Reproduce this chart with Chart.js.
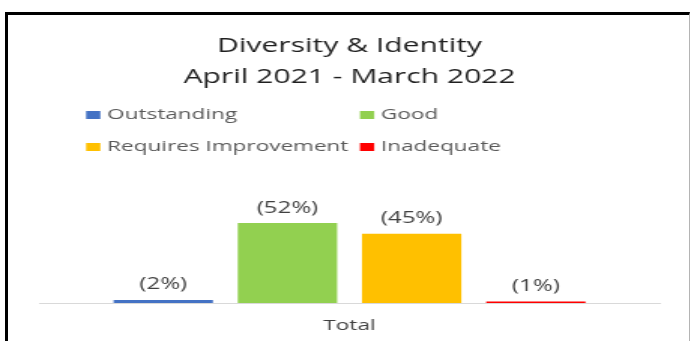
<!DOCTYPE html>
<html>
<head>
<meta charset="utf-8">
<title>Diversity &amp; Identity</title>
<script src="https://cdn.jsdelivr.net/npm/chart.js@4.4.1/dist/chart.umd.min.js"></script>
<style>
  html, body { margin: 0; padding: 0; background: #fff; }
  #wrap { position: relative; width: 691px; height: 341px; overflow: hidden; }
  #chart { position: absolute; left: 0; top: 0; }
  #frame {
    position: absolute; left: 5px; top: 12px; width: 681px; height: 400px;
    border-top: 3px solid #000; border-left: 3px solid #000; border-right: 1px solid #b4b4b4;
    pointer-events: none;
  }
</style>
</head>
<body>
<div id="wrap">
  <!-- drawn narrow and widened by the inline style, so the chart comes out stretched -->
  <canvas id="chart" width="460" height="341" style="width: 691px; height: 341px;"></canvas>
  <div id="frame"></div>
</div>
<script>
const categories = ['Total'];
const ratingLabels = ['Outstanding', 'Good', 'Requires Improvement', 'Inadequate'];
const ratingValues = [2, 52, 45, 1];   // percent of cases
const ratingColours = ['#4472c4', '#92d050', '#ffc000', '#ff0000'];
const titleLines = ['Diversity & Identity', 'April 2021 - March 2022'];

const FONT = "'Open Sans'";

// "(52%)" style labels above each bar
const valueLabels = {
  id: 'valueLabels',
  afterDatasetsDraw(chart) {
    const ctx = chart.ctx;
    ctx.save();
    ctx.font = '16px ' + FONT;
    ctx.fillStyle = '#404040';
    ctx.textAlign = 'center';
    ctx.textBaseline = 'middle';
    chart.data.datasets.forEach((ds, i) => {
      chart.getDatasetMeta(i).data.forEach((bar, j) => {
        ctx.fillText('(' + ds.data[j] + '%)', bar.x, bar.y - 15);
      });
    });
    ctx.restore();
  }
};

// legend laid out as a 2 x 2 grid under the title
const gridLegend = {
  id: 'gridLegend',
  afterDraw(chart) {
    const ctx = chart.ctx;
    const cols = [57.3, 239.6];
    const rows = [115, 147];
    ctx.save();
    ctx.font = '15px ' + FONT;
    ctx.textBaseline = 'middle';
    chart.data.datasets.forEach((ds, i) => {
      const x = cols[i % 2];
      const y = rows[Math.floor(i / 2)];
      ctx.fillStyle = ds.backgroundColor;
      ctx.fillRect(x, y - 4, 9.5, 8);
      ctx.fillStyle = '#595959';
      ctx.fillText(ds.label, x + 14, y);
    });
    ctx.restore();
  }
};

new Chart(document.getElementById('chart'), {
  type: 'bar',
  data: {
    labels: categories,
    datasets: ratingLabels.map((label, i) => ({
      label: label,
      data: [ratingValues[i]],
      backgroundColor: ratingColours[i]
    }))
  },
  options: {
    responsive: false,
    animation: false,
    devicePixelRatio: 1,
    layout: { padding: { left: 26, right: 20.6, top: 0, bottom: -8 } },
    datasets: { bar: { categoryPercentage: 0.8, barPercentage: 0.8 } },
    plugins: {
      legend: { display: false },
      tooltip: { enabled: false },
      title: {
        display: true,
        text: titleLines,
        color: '#1f1f1f',
        font: { family: FONT, size: 20, weight: 'normal', lineHeight: 1.55 },
        padding: { top: 31, bottom: 87 }
      }
    },
    scales: {
      x: {
        grid: { display: false, drawTicks: false },
        border: { color: '#d9d9d9' },
        ticks: { color: '#404040', padding: 14, font: { family: FONT, size: 15 } }
      },
      y: { display: false, min: 0, max: 80 }
    }
  },
  plugins: [valueLabels, gridLegend]
});
</script>
</body>
</html>
